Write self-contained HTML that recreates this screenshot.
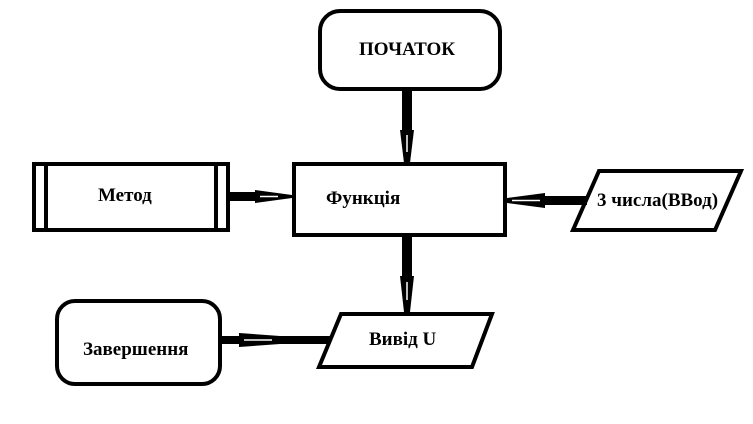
<!DOCTYPE html>
<html><head><meta charset="utf-8"><style>
html,body{margin:0;padding:0;background:#fff;}
svg{display:block;}
text{font-family:"Liberation Serif",serif;font-weight:bold;font-size:19px;fill:#000;}
</style></head><body>
<svg width="753" height="424" viewBox="0 0 753 424" xmlns="http://www.w3.org/2000/svg">
<g fill="none" stroke="#000" stroke-width="4">
<rect x="320" y="11" width="180" height="78" rx="20"/>
<rect x="294" y="164" width="211" height="71"/>
<rect x="34" y="164" width="194" height="66"/>
<line x1="46" y1="164" x2="46" y2="230"/>
<line x1="216" y1="164" x2="216" y2="230"/>
<polygon points="599,171 741,171 715,230 573,230"/>
<polygon points="341,314 492,314 472,367 319,367"/>
<rect x="57" y="301" width="163" height="83" rx="18"/>
</g>
<g fill="#000">
<rect x="402" y="90" width="10" height="40"/>
<polygon points="400,130 414,130 410,163 404,163"/>
<rect x="402" y="236" width="10" height="40"/>
<polygon points="400,276 414,276 410,312 404,312"/>
<rect x="229" y="192" width="26" height="9"/>
<polygon points="255,190 255,203 292,198 292,195"/>
<rect x="545" y="196" width="42" height="9"/>
<polygon points="545,193 545,208 507,203 507,198"/>
<rect x="221" y="336" width="18" height="8"/>
<polygon points="239,333 239,347 280,344 280,336"/>
<rect x="280" y="336" width="50" height="8"/>
</g>
<g stroke="#fff" stroke-width="1.5">
<line x1="407" y1="135" x2="407" y2="152"/>
<line x1="407" y1="282" x2="407" y2="300"/>
<line x1="260" y1="196.5" x2="278" y2="196.5"/>
<line x1="512" y1="200.5" x2="540" y2="200.5"/>
<line x1="244" y1="340" x2="272" y2="340"/>
</g>
<text x="359" y="55">ПОЧАТОК</text>
<text x="326" y="204">Функція</text>
<text x="98" y="201">Метод</text>
<text x="597" y="206">3 числа(ВВод)</text>
<text x="369" y="345">Вивід U</text>
<text x="83" y="355">Завершення</text>
</svg>
</body></html>
